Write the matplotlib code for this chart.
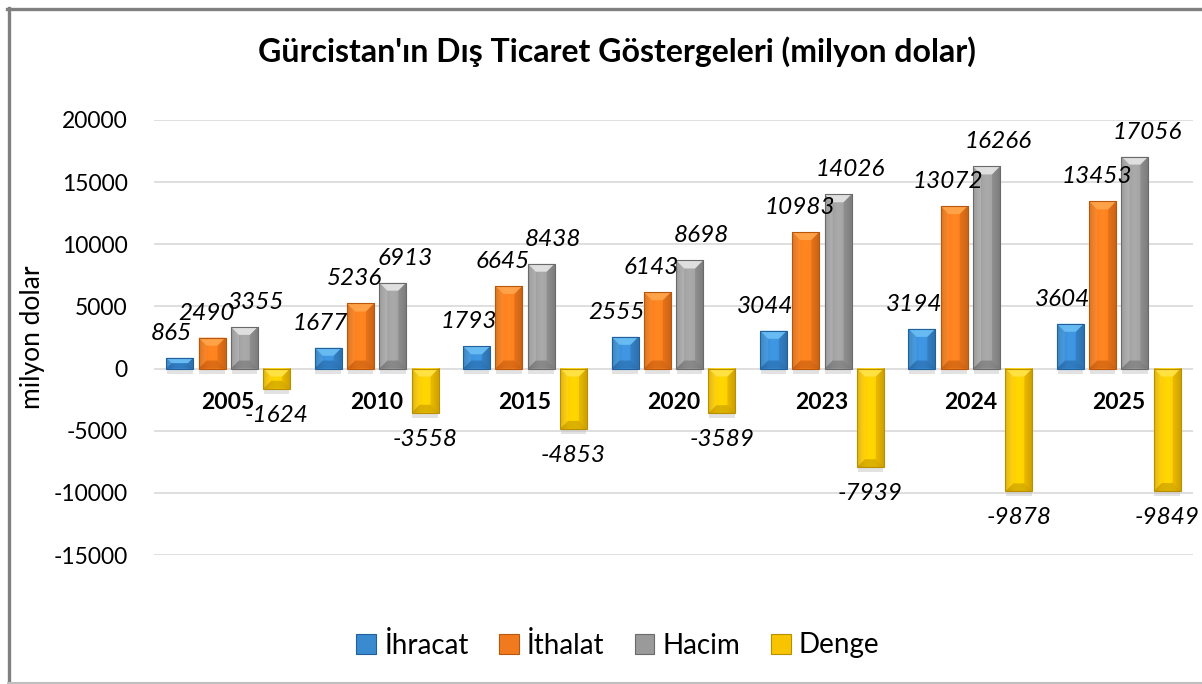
import numpy as np
import matplotlib
matplotlib.use('Agg')
import matplotlib.pyplot as plt
from matplotlib.patches import Polygon, Rectangle, Patch
from matplotlib.lines import Line2D

plt.rcParams['font.family'] = ['Lato', 'DejaVu Sans']

years = ['2005', '2010', '2015', '2020', '2023', '2024', '2025']
series = ['İhracat', 'İthalat', 'Hacim', 'Denge']
ihracat = [865, 1677, 1793, 2555, 3044, 3194, 3604]
ithalat = [2490, 5236, 6645, 6143, 10983, 13072, 13453]
hacim = [3355, 6913, 8438, 8698, 14026, 16266, 17056]
denge = [-1624, -3558, -4853, -3589, -7939, -9878, -9849]

# (main, light, dark)
colors = [('#3a8ad0', '#6cc0f5', '#22609c'),
          ('#f27a1e', '#ffa64d', '#b8560c'),
          ('#9a9a9a', '#e6e6e6', '#6a6a6a'),
          ('#f8c400', '#ffe44a', '#b88f00')]
label_dx = [-8, -6, 12, 0]

W, H = 1202, 684
fig = plt.figure(figsize=(W / 100, H / 100), dpi=100)
ax_l, ax_r, ax_t, ax_b = 154, 1193, 120, 555
ax = fig.add_axes([ax_l / W, 1 - ax_b / H, (ax_r - ax_l) / W, (ax_b - ax_t) / H])

ymin, ymax = -15000, 20000
n = len(years)
ax.set_xlim(-0.5, n - 0.5)
ax.set_ylim(ymin, ymax)
sx = (ax_r - ax_l) / n              # px per x unit
sy = (ax_b - ax_t) / (ymax - ymin)  # px per y unit

for v in range(ymin, ymax + 1, 5000):
    ax.axhline(v, color='#d9d9d9', lw=1.2, zorder=0)

step = 0.2177
width = 0.182
x = np.arange(n)
data = [ihracat, ithalat, hacim, denge]


def bevel_bar(xc, val, cols):
    main, light, dark = cols
    x0, x1 = xc - width / 2, xc + width / 2
    top, bot = max(val, 0), min(val, 0)
    hpx = (top - bot) * sy
    b = min(8, hpx / 2, width * sx / 2)
    bx = b / sx
    by = b / sy
    # shadow
    ax.add_patch(Rectangle((x0 + 0.005, bot - 5 / sy), width - 0.01, 5 / sy,
                           facecolor='#bfbfbf', alpha=0.45, lw=0, zorder=1))
    # body with horizontal shading
    grad = np.linspace(0, 1, 32)
    shade = 0.85 + 0.25 * np.sin(np.pi * grad)
    rgb = np.array(matplotlib.colors.to_rgb(main))
    img = np.clip(rgb[None, :] * shade[:, None], 0, 1)[None, :, :]
    ax.imshow(img, extent=(x0, x1, bot, top), aspect='auto', zorder=2,
              interpolation='bilinear')
    # top bevel (light)
    ax.add_patch(Polygon([(x0, top), (x1, top), (x1 - bx, top - by), (x0 + bx, top - by)],
                         closed=True, facecolor=light, lw=0, alpha=0.9, zorder=3))
    # bottom bevel (dark)
    ax.add_patch(Polygon([(x0, bot), (x1, bot), (x1 - bx, bot + by), (x0 + bx, bot + by)],
                         closed=True, facecolor=dark, lw=0, alpha=0.5, zorder=3))
    # side bevels
    ax.add_patch(Polygon([(x0, top), (x0 + bx, top - by), (x0 + bx, bot + by), (x0, bot)],
                         closed=True, facecolor=light, lw=0, alpha=0.25, zorder=3))
    ax.add_patch(Polygon([(x1, top), (x1 - bx, top - by), (x1 - bx, bot + by), (x1, bot)],
                         closed=True, facecolor=dark, lw=0, alpha=0.35, zorder=3))
    ax.add_patch(Rectangle((x0, bot), width, top - bot, fill=False,
                           edgecolor=dark, lw=0.8, zorder=4))


for i, (vals, cols) in enumerate(zip(data, colors)):
    offs = (i - 1.5) * step
    for j, v in enumerate(vals):
        bevel_bar(x[j] + offs, v, cols)
        if v >= 0:
            ax.annotate(str(v), (x[j] + offs, v), xytext=(label_dx[i], 14),
                        textcoords='offset pixels', ha='center', va='bottom',
                        fontsize=17.5, fontstyle='italic', color='#000000', zorder=5)
        else:
            ax.annotate(str(v), (x[j] + offs, v), xytext=(label_dx[i], -16),
                        textcoords='offset pixels', ha='center', va='top',
                        fontsize=17.5, fontstyle='italic', color='#000000', zorder=5)

for j, yr in enumerate(years):
    ax.annotate(yr, (x[j], 0), xytext=(0, -34), textcoords='offset pixels',
                ha='center', va='center', fontsize=16.5, fontweight='bold', zorder=5)

ax.set_xticks([])
ax.set_yticks(range(ymin, ymax + 1, 5000))
ax.set_yticklabels([str(v) for v in range(ymin, ymax + 1, 5000)], fontsize=16.5)
ax.tick_params(axis='y', length=0, pad=19)
for s in ax.spines.values():
    s.set_visible(False)
ax.set_ylabel('milyon dolar', fontsize=19)
ax.yaxis.set_label_coords((45 - ax_l) / (ax_r - ax_l), 0.5)

fig.text(617 / W, 1 - 52 / H, "Gürcistan'ın Dış Ticaret Göstergeleri (milyon dolar)",
         ha='center', va='center', fontsize=23, fontweight='bold')

handles = [Patch(facecolor=c[0], edgecolor=c[2], lw=0.8) for c in colors]
fig.legend(handles, series, loc='center', bbox_to_anchor=(618 / W, 1 - 645 / H),
           ncol=4, frameon=False, fontsize=20, handlelength=0.7, handleheight=0.7,
           handletextpad=0.3, columnspacing=1.1)

# outer border
fig.add_artist(Line2D([8.5 / W, 8.5 / W], [0, 1 - 8 / H], color='#808080', lw=2.4,
                      transform=fig.transFigure))
fig.add_artist(Line2D([7 / W, 1], [1 - 8.5 / H, 1 - 8.5 / H], color='#808080', lw=2.4,
                      transform=fig.transFigure))
fig.add_artist(Line2D([8 / W, 1], [1.5 / H, 1.5 / H], color='#bfbfbf', lw=1.5,
                      transform=fig.transFigure))

fig.savefig('out.png', dpi=100)
